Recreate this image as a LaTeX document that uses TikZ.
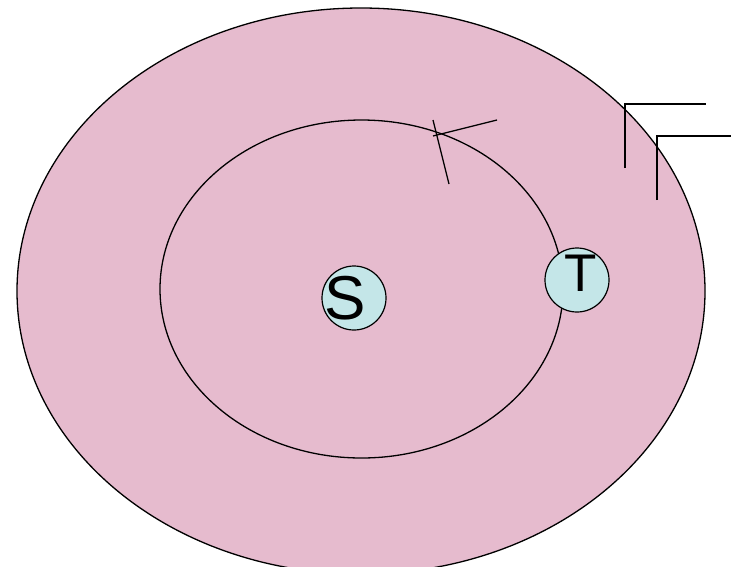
\documentclass[tikz,border=0pt]{standalone}
\usepackage{fontspec}
\setmainfont{Liberation Sans}
\usetikzlibrary{shapes.geometric}
\definecolor{orbitpink}{RGB}{230,187,206}
\definecolor{bodycyan}{RGB}{196,230,232}
\begin{document}
\begin{tikzpicture}[
    x=1pt, y=-1pt,
    orbit/.style={ellipse, draw, line width=1.3pt, inner sep=0pt},
    body/.style={circle, draw, line width=1.2pt, fill=bodycyan, inner sep=0pt, minimum size=64pt},
    letter/.style={inner sep=0pt},
    stroke/.style={line width=1.3pt}
]
    \useasboundingbox (0,0) rectangle (731,566);
    \node[orbit, fill=orbitpink, minimum width=688pt, minimum height=566pt] (outer) at (361,291) {};
    \node[orbit, minimum width=403pt, minimum height=338pt] (inner) at (361.5,289) {};

    \node[body] (sun) at (354,298) {};
    \node[letter, font=\fontsize{62}{62}\selectfont] (slabel) at (345,298) {S};
    \node[body] (planet) at (577,280) {};
    \node[letter, font=\fontsize{53}{53}\selectfont] (tlabel) at (581,273) {T};

    % arrow mark on the orbit
    \draw[stroke] (433,120) -- (449,184);
    \draw[stroke] (433,136) -- (497,120);

    % corner marks
    \draw[stroke] (625,168) -- (625,104) -- (706,104);
    \draw[stroke] (657,200) -- (657,136) -- (731,136);
\end{tikzpicture}
\end{document}
